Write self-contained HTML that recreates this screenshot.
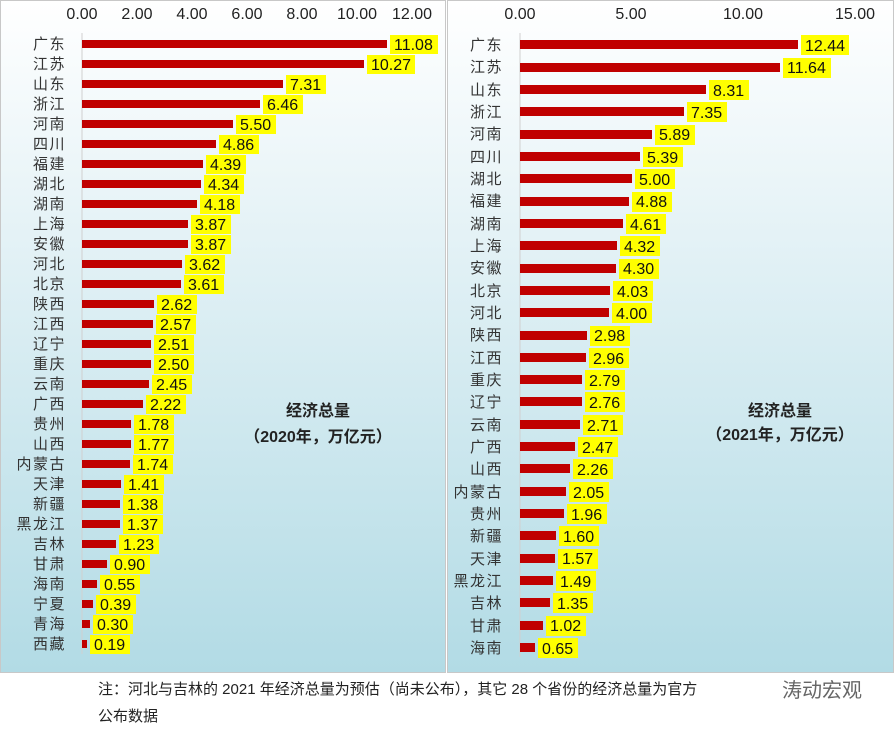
<!DOCTYPE html>
<html><head><meta charset="utf-8"><style>
body{margin:0;background:#fff;}
svg{display:block;font-family:"Liberation Sans","Noto Sans CJK SC",sans-serif;}
.c{font-size:15px;fill:#333;text-anchor:end;letter-spacing:1.5px;}
.v{font-size:16px;fill:#111;}
.t{font-size:15px;fill:#222;text-anchor:middle;}
.b{fill:#c00000;}
.y{fill:#ffff00;}
</style></head><body>
<svg width="895" height="729" viewBox="0 0 895 729">
<defs><linearGradient id="g" x1="0" y1="0" x2="0" y2="1">
<stop offset="0" stop-color="#ffffff"/><stop offset="0.35" stop-color="#e4f2f6"/><stop offset="1" stop-color="#b2dbe5"/></linearGradient></defs>
<rect x="0.5" y="0.5" width="445" height="672" fill="url(#g)" stroke="#c8c8c8"/>
<rect x="447.5" y="0.5" width="446" height="672" fill="url(#g)" stroke="#c8c8c8"/>
<line x1="82" y1="33" x2="82" y2="654" stroke="#d0d0d0"/>
<line x1="520" y1="33" x2="520" y2="657" stroke="#d0d0d0"/>
<g class="t" style="font-size:16px">
<text x="82" y="19">0.00</text><text x="137" y="19">2.00</text><text x="192" y="19">4.00</text><text x="247" y="19">6.00</text><text x="302" y="19">8.00</text><text x="357" y="19">10.00</text><text x="412" y="19">12.00</text>
<text x="520" y="19">0.00</text><text x="631" y="19">5.00</text><text x="743" y="19">10.00</text><text x="855" y="19">15.00</text>
</g>
<text class="t" x="318" y="416" style="font-weight:bold;font-size:16px">经济总量</text>
<text class="t" x="318" y="442" style="font-weight:bold;font-size:16px">（2020年，万亿元）</text>
<text class="t" x="780" y="416" style="font-weight:bold;font-size:16px">经济总量</text>
<text class="t" x="780" y="440" style="font-weight:bold;font-size:16px">（2021年，万亿元）</text>
<!-- left -->
<g>
<text class="c" x="66" y="49">广东</text><rect class="b" x="82" y="40" width="305" height="8"/><rect class="y" x="390" y="35" width="48" height="19"/><text class="v" x="394" y="50">11.08</text>
<text class="c" x="66" y="69">江苏</text><rect class="b" x="82" y="60" width="282" height="8"/><rect class="y" x="367" y="55" width="48" height="19"/><text class="v" x="371" y="70">10.27</text>
<text class="c" x="66" y="89">山东</text><rect class="b" x="82" y="80" width="201" height="8"/><rect class="y" x="286" y="75" width="40" height="19"/><text class="v" x="290" y="90">7.31</text>
<text class="c" x="66" y="109">浙江</text><rect class="b" x="82" y="100" width="178" height="8"/><rect class="y" x="263" y="95" width="40" height="19"/><text class="v" x="267" y="110">6.46</text>
<text class="c" x="66" y="129">河南</text><rect class="b" x="82" y="120" width="151" height="8"/><rect class="y" x="236" y="115" width="40" height="19"/><text class="v" x="240" y="130">5.50</text>
<text class="c" x="66" y="149">四川</text><rect class="b" x="82" y="140" width="134" height="8"/><rect class="y" x="219" y="135" width="40" height="19"/><text class="v" x="223" y="150">4.86</text>
<text class="c" x="66" y="169">福建</text><rect class="b" x="82" y="160" width="121" height="8"/><rect class="y" x="206" y="155" width="40" height="19"/><text class="v" x="210" y="170">4.39</text>
<text class="c" x="66" y="189">湖北</text><rect class="b" x="82" y="180" width="119" height="8"/><rect class="y" x="204" y="175" width="40" height="19"/><text class="v" x="208" y="190">4.34</text>
<text class="c" x="66" y="209">湖南</text><rect class="b" x="82" y="200" width="115" height="8"/><rect class="y" x="200" y="195" width="40" height="19"/><text class="v" x="204" y="210">4.18</text>
<text class="c" x="66" y="229">上海</text><rect class="b" x="82" y="220" width="106" height="8"/><rect class="y" x="191" y="215" width="40" height="19"/><text class="v" x="195" y="230">3.87</text>
<text class="c" x="66" y="249">安徽</text><rect class="b" x="82" y="240" width="106" height="8"/><rect class="y" x="191" y="235" width="40" height="19"/><text class="v" x="195" y="250">3.87</text>
<text class="c" x="66" y="269">河北</text><rect class="b" x="82" y="260" width="100" height="8"/><rect class="y" x="185" y="255" width="40" height="19"/><text class="v" x="189" y="270">3.62</text>
<text class="c" x="66" y="289">北京</text><rect class="b" x="82" y="280" width="99" height="8"/><rect class="y" x="184" y="275" width="40" height="19"/><text class="v" x="188" y="290">3.61</text>
<text class="c" x="66" y="309">陕西</text><rect class="b" x="82" y="300" width="72" height="8"/><rect class="y" x="157" y="295" width="40" height="19"/><text class="v" x="161" y="310">2.62</text>
<text class="c" x="66" y="329">江西</text><rect class="b" x="82" y="320" width="71" height="8"/><rect class="y" x="156" y="315" width="40" height="19"/><text class="v" x="160" y="330">2.57</text>
<text class="c" x="66" y="349">辽宁</text><rect class="b" x="82" y="340" width="69" height="8"/><rect class="y" x="154" y="335" width="40" height="19"/><text class="v" x="158" y="350">2.51</text>
<text class="c" x="66" y="369">重庆</text><rect class="b" x="82" y="360" width="69" height="8"/><rect class="y" x="154" y="355" width="40" height="19"/><text class="v" x="158" y="370">2.50</text>
<text class="c" x="66" y="389">云南</text><rect class="b" x="82" y="380" width="67" height="8"/><rect class="y" x="152" y="375" width="40" height="19"/><text class="v" x="156" y="390">2.45</text>
<text class="c" x="66" y="409">广西</text><rect class="b" x="82" y="400" width="61" height="8"/><rect class="y" x="146" y="395" width="40" height="19"/><text class="v" x="150" y="410">2.22</text>
<text class="c" x="66" y="429">贵州</text><rect class="b" x="82" y="420" width="49" height="8"/><rect class="y" x="134" y="415" width="40" height="19"/><text class="v" x="138" y="430">1.78</text>
<text class="c" x="66" y="449">山西</text><rect class="b" x="82" y="440" width="49" height="8"/><rect class="y" x="134" y="435" width="40" height="19"/><text class="v" x="138" y="450">1.77</text>
<text class="c" x="66" y="469">内蒙古</text><rect class="b" x="82" y="460" width="48" height="8"/><rect class="y" x="133" y="455" width="40" height="19"/><text class="v" x="137" y="470">1.74</text>
<text class="c" x="66" y="489">天津</text><rect class="b" x="82" y="480" width="39" height="8"/><rect class="y" x="124" y="475" width="40" height="19"/><text class="v" x="128" y="490">1.41</text>
<text class="c" x="66" y="509">新疆</text><rect class="b" x="82" y="500" width="38" height="8"/><rect class="y" x="123" y="495" width="40" height="19"/><text class="v" x="127" y="510">1.38</text>
<text class="c" x="66" y="529">黑龙江</text><rect class="b" x="82" y="520" width="38" height="8"/><rect class="y" x="123" y="515" width="40" height="19"/><text class="v" x="127" y="530">1.37</text>
<text class="c" x="66" y="549">吉林</text><rect class="b" x="82" y="540" width="34" height="8"/><rect class="y" x="119" y="535" width="40" height="19"/><text class="v" x="123" y="550">1.23</text>
<text class="c" x="66" y="569">甘肃</text><rect class="b" x="82" y="560" width="25" height="8"/><rect class="y" x="110" y="555" width="40" height="19"/><text class="v" x="114" y="570">0.90</text>
<text class="c" x="66" y="589">海南</text><rect class="b" x="82" y="580" width="15" height="8"/><rect class="y" x="100" y="575" width="40" height="19"/><text class="v" x="104" y="590">0.55</text>
<text class="c" x="66" y="609">宁夏</text><rect class="b" x="82" y="600" width="11" height="8"/><rect class="y" x="96" y="595" width="40" height="19"/><text class="v" x="100" y="610">0.39</text>
<text class="c" x="66" y="629">青海</text><rect class="b" x="82" y="620" width="8" height="8"/><rect class="y" x="93" y="615" width="40" height="19"/><text class="v" x="97" y="630">0.30</text>
<text class="c" x="66" y="649">西藏</text><rect class="b" x="82" y="640" width="5" height="8"/><rect class="y" x="90" y="635" width="40" height="19"/><text class="v" x="94" y="650">0.19</text>
</g>
<!-- right -->
<g>
<text class="c" x="503" y="50">广东</text><rect class="b" x="520" y="40" width="278" height="9"/><rect class="y" x="801" y="35" width="48" height="20"/><text class="v" x="805" y="51">12.44</text>
<text class="c" x="503" y="72">江苏</text><rect class="b" x="520" y="63" width="260" height="9"/><rect class="y" x="783" y="58" width="48" height="20"/><text class="v" x="787" y="73">11.64</text>
<text class="c" x="503" y="95">山东</text><rect class="b" x="520" y="85" width="186" height="9"/><rect class="y" x="709" y="80" width="40" height="20"/><text class="v" x="713" y="96">8.31</text>
<text class="c" x="503" y="117">浙江</text><rect class="b" x="520" y="107" width="164" height="9"/><rect class="y" x="687" y="102" width="40" height="20"/><text class="v" x="691" y="118">7.35</text>
<text class="c" x="503" y="139">河南</text><rect class="b" x="520" y="130" width="132" height="9"/><rect class="y" x="655" y="125" width="40" height="20"/><text class="v" x="659" y="140">5.89</text>
<text class="c" x="503" y="162">四川</text><rect class="b" x="520" y="152" width="120" height="9"/><rect class="y" x="643" y="147" width="40" height="20"/><text class="v" x="647" y="163">5.39</text>
<text class="c" x="503" y="184">湖北</text><rect class="b" x="520" y="174" width="112" height="9"/><rect class="y" x="635" y="169" width="40" height="20"/><text class="v" x="639" y="185">5.00</text>
<text class="c" x="503" y="206">福建</text><rect class="b" x="520" y="197" width="109" height="9"/><rect class="y" x="632" y="192" width="40" height="20"/><text class="v" x="636" y="207">4.88</text>
<text class="c" x="503" y="229">湖南</text><rect class="b" x="520" y="219" width="103" height="9"/><rect class="y" x="626" y="214" width="40" height="20"/><text class="v" x="630" y="230">4.61</text>
<text class="c" x="503" y="251">上海</text><rect class="b" x="520" y="241" width="97" height="9"/><rect class="y" x="620" y="236" width="40" height="20"/><text class="v" x="624" y="252">4.32</text>
<text class="c" x="503" y="273">安徽</text><rect class="b" x="520" y="264" width="96" height="9"/><rect class="y" x="619" y="259" width="40" height="20"/><text class="v" x="623" y="274">4.30</text>
<text class="c" x="503" y="296">北京</text><rect class="b" x="520" y="286" width="90" height="9"/><rect class="y" x="613" y="281" width="40" height="20"/><text class="v" x="617" y="297">4.03</text>
<text class="c" x="503" y="318">河北</text><rect class="b" x="520" y="308" width="89" height="9"/><rect class="y" x="612" y="303" width="40" height="20"/><text class="v" x="616" y="319">4.00</text>
<text class="c" x="503" y="340">陕西</text><rect class="b" x="520" y="331" width="67" height="9"/><rect class="y" x="590" y="326" width="40" height="20"/><text class="v" x="594" y="341">2.98</text>
<text class="c" x="503" y="363">江西</text><rect class="b" x="520" y="353" width="66" height="9"/><rect class="y" x="589" y="348" width="40" height="20"/><text class="v" x="593" y="364">2.96</text>
<text class="c" x="503" y="385">重庆</text><rect class="b" x="520" y="375" width="62" height="9"/><rect class="y" x="585" y="370" width="40" height="20"/><text class="v" x="589" y="386">2.79</text>
<text class="c" x="503" y="407">辽宁</text><rect class="b" x="520" y="397" width="62" height="9"/><rect class="y" x="585" y="392" width="40" height="20"/><text class="v" x="589" y="408">2.76</text>
<text class="c" x="503" y="430">云南</text><rect class="b" x="520" y="420" width="60" height="9"/><rect class="y" x="583" y="415" width="40" height="20"/><text class="v" x="587" y="431">2.71</text>
<text class="c" x="503" y="452">广西</text><rect class="b" x="520" y="442" width="55" height="9"/><rect class="y" x="578" y="437" width="40" height="20"/><text class="v" x="582" y="453">2.47</text>
<text class="c" x="503" y="474">山西</text><rect class="b" x="520" y="464" width="50" height="9"/><rect class="y" x="573" y="459" width="40" height="20"/><text class="v" x="577" y="475">2.26</text>
<text class="c" x="503" y="497">内蒙古</text><rect class="b" x="520" y="487" width="46" height="9"/><rect class="y" x="569" y="482" width="40" height="20"/><text class="v" x="573" y="498">2.05</text>
<text class="c" x="503" y="519">贵州</text><rect class="b" x="520" y="509" width="44" height="9"/><rect class="y" x="567" y="504" width="40" height="20"/><text class="v" x="571" y="520">1.96</text>
<text class="c" x="503" y="541">新疆</text><rect class="b" x="520" y="531" width="36" height="9"/><rect class="y" x="559" y="526" width="40" height="20"/><text class="v" x="563" y="542">1.60</text>
<text class="c" x="503" y="564">天津</text><rect class="b" x="520" y="554" width="35" height="9"/><rect class="y" x="558" y="549" width="40" height="20"/><text class="v" x="562" y="564">1.57</text>
<text class="c" x="503" y="586">黑龙江</text><rect class="b" x="520" y="576" width="33" height="9"/><rect class="y" x="556" y="571" width="40" height="20"/><text class="v" x="560" y="587">1.49</text>
<text class="c" x="503" y="608">吉林</text><rect class="b" x="520" y="598" width="30" height="9"/><rect class="y" x="553" y="593" width="40" height="20"/><text class="v" x="557" y="609">1.35</text>
<text class="c" x="503" y="631">甘肃</text><rect class="b" x="520" y="621" width="23" height="9"/><rect class="y" x="546" y="616" width="40" height="20"/><text class="v" x="550" y="631">1.02</text>
<text class="c" x="503" y="653">海南</text><rect class="b" x="520" y="643" width="15" height="9"/><rect class="y" x="538" y="638" width="40" height="20"/><text class="v" x="542" y="654">0.65</text>
</g>
<text x="98" y="694" style="font-size:15px;fill:#222">注：河北与吉林的 2021 年经济总量为预估（尚未公布），其它 28 个省份的经济总量为官方</text>
<text x="98" y="721" style="font-size:15px;fill:#222">公布数据</text>
<text x="782" y="697" style="font-size:20px;fill:#666">涛动宏观</text>
</svg>
</body></html>
